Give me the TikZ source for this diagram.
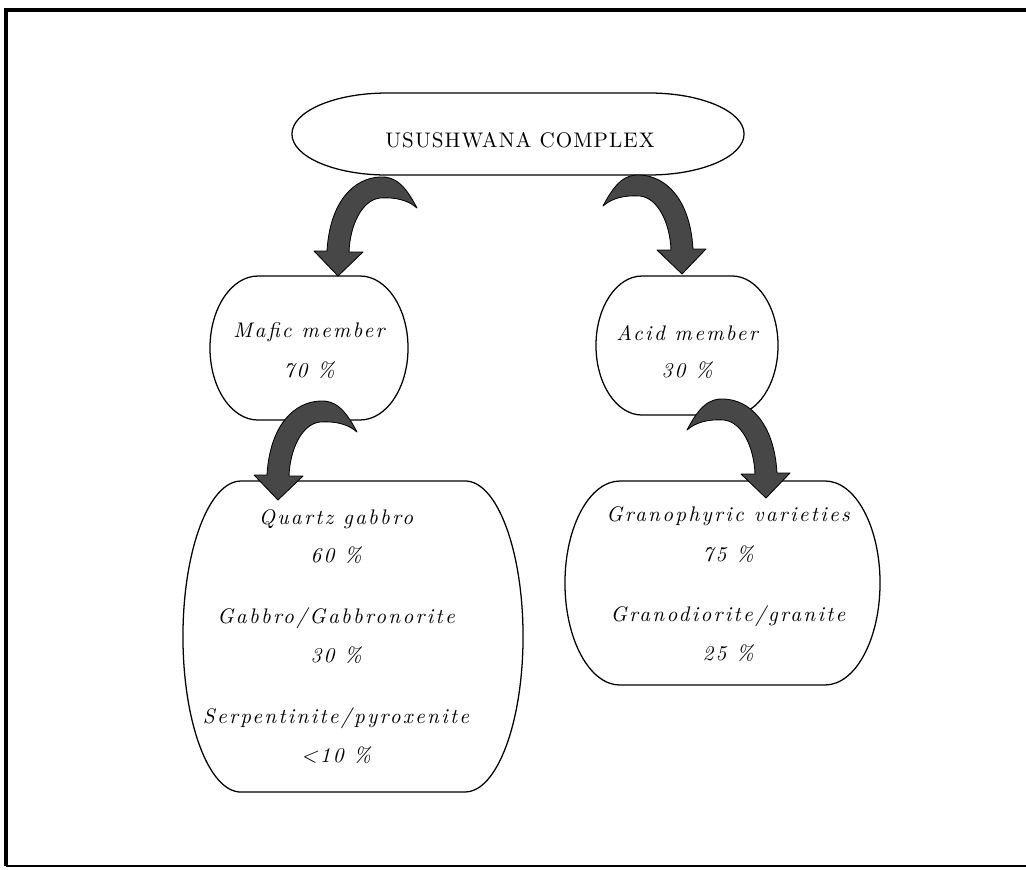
\documentclass[tikz,border=0pt]{standalone}
\usepackage{fontspec}
\setmainfont{lmroman10-regular}[Extension=.otf, ItalicFont=lmroman10-italic, BoldFont=lmroman10-bold]
\usetikzlibrary{calc}

\newcommand{\titlefont}{\fontsize{15}{18}\selectfont\addfontfeatures{LetterSpace=5}}
\newcommand{\rockfont}{\fontsize{15}{18}\selectfont\itshape\addfontfeatures{LetterSpace=11}}

% outline of a box with flat top and bottom and half-ellipse ends
\newcommand{\pillpath}[3]{%
  \draw[box] ($(#1.north west)+(#2,0)$) -- ($(#1.north east)-(#2,0)$)
    arc[start angle=90, end angle=-90, x radius=#2, y radius=#3]
    -- ($(#1.south west)+(#2,0)$)
    arc[start angle=270, end angle=90, x radius=#2, y radius=#3] -- cycle;}

% thick bent arrow, tip at #2
\newcommand{\curlarrow}[2][]{%
  \filldraw[curl, shift={(#2)}, #1] (79,68) .. controls (67,91) and (57,100) .. (42,99)
    .. controls (17,98) and (-8,76) .. (-11,25) -- (-24,25) -- (0,0) -- (25,24) -- (11,24)
    .. controls (12,51) and (24,76) .. (42,78) .. controls (57,79) and (70,76) .. (79,68) -- cycle;}

\begin{document}
\begin{tikzpicture}[x=0.025cm, y=0.025cm,
  box/.style={draw=black, line width=0.9pt},
  holder/.style={inner sep=0pt, outer sep=0pt},
  curl/.style={draw=black, fill=black!72, line width=0.6pt, line join=round},
  rock/.style={font=\rockfont, text height=1.6ex, text depth=0.3ex, inner sep=0pt}]

\useasboundingbox (0,0) rectangle (1026,-869);

% frame
\draw[line width=2.2pt] (6,-866) -- (6,-10) -- (1026,-10);
\draw[line width=1.2pt] (6,-866) -- (1026,-866);

% boxes
\node[holder, minimum width=11.3cm, minimum height=2.05cm] (complex) at (518,-134) {};
\node[holder, minimum width=4.95cm, minimum height=3.6cm] (mafic) at (309,-348) {};
\node[holder, minimum width=4.55cm, minimum height=3.475cm] (acid) at (687,-345.5) {};
\node[holder, minimum width=8.5cm, minimum height=7.775cm] (mafrocks) at (353,-636.5) {};
\node[holder, minimum width=7.875cm, minimum height=5.1cm] (acidrocks) at (722.5,-583) {};

\pillpath{complex}{95}{41}
\pillpath{mafic}{48}{72}
\pillpath{acid}{46}{69.5}
\pillpath{mafrocks}{58}{155.5}
\pillpath{acidrocks}{55}{102}

% texts
\node[font=\titlefont, inner sep=0pt] (ctitle) at (520,-140) {USUSHWANA COMPLEX};

\node[rock] (mname) at (309,-334) {Mafic member};
\node[rock] (mpct) at (309,-374) {70 \%};
\node[rock] (aname) at (687,-337) {Acid member};
\node[rock] (apct) at (687,-374) {30 \%};

\node[rock] (qg) at (336,-521) {Quartz gabbro};
\node[rock] (qgpct) at (336,-559) {60 \%};
\node[rock] (gb) at (336,-620) {Gabbro/Gabbronorite};
\node[rock] (gbpct) at (336,-659) {30 \%};
\node[rock] (sp) at (336,-720) {Serpentinite/pyroxenite};
\node[rock] (sppct) at (336,-759) {<10 \%};

\node[rock] (gv) at (728,-518) {Granophyric varieties};
\node[rock] (gvpct) at (728,-558) {75 \%};
\node[rock] (gd) at (728,-618) {Granodiorite/granite};
\node[rock] (gdpct) at (728,-657) {25 \%};

% arrows
\coordinate (tipA) at (338,-276);
\coordinate (tipB) at (682,-274);
\coordinate (tipC) at (278,-500);
\coordinate (tipD) at (766,-498);
\curlarrow{tipA}
\curlarrow[xscale=-1]{tipB}
\curlarrow{tipC}
\curlarrow[xscale=-1]{tipD}
\end{tikzpicture}
\end{document}
